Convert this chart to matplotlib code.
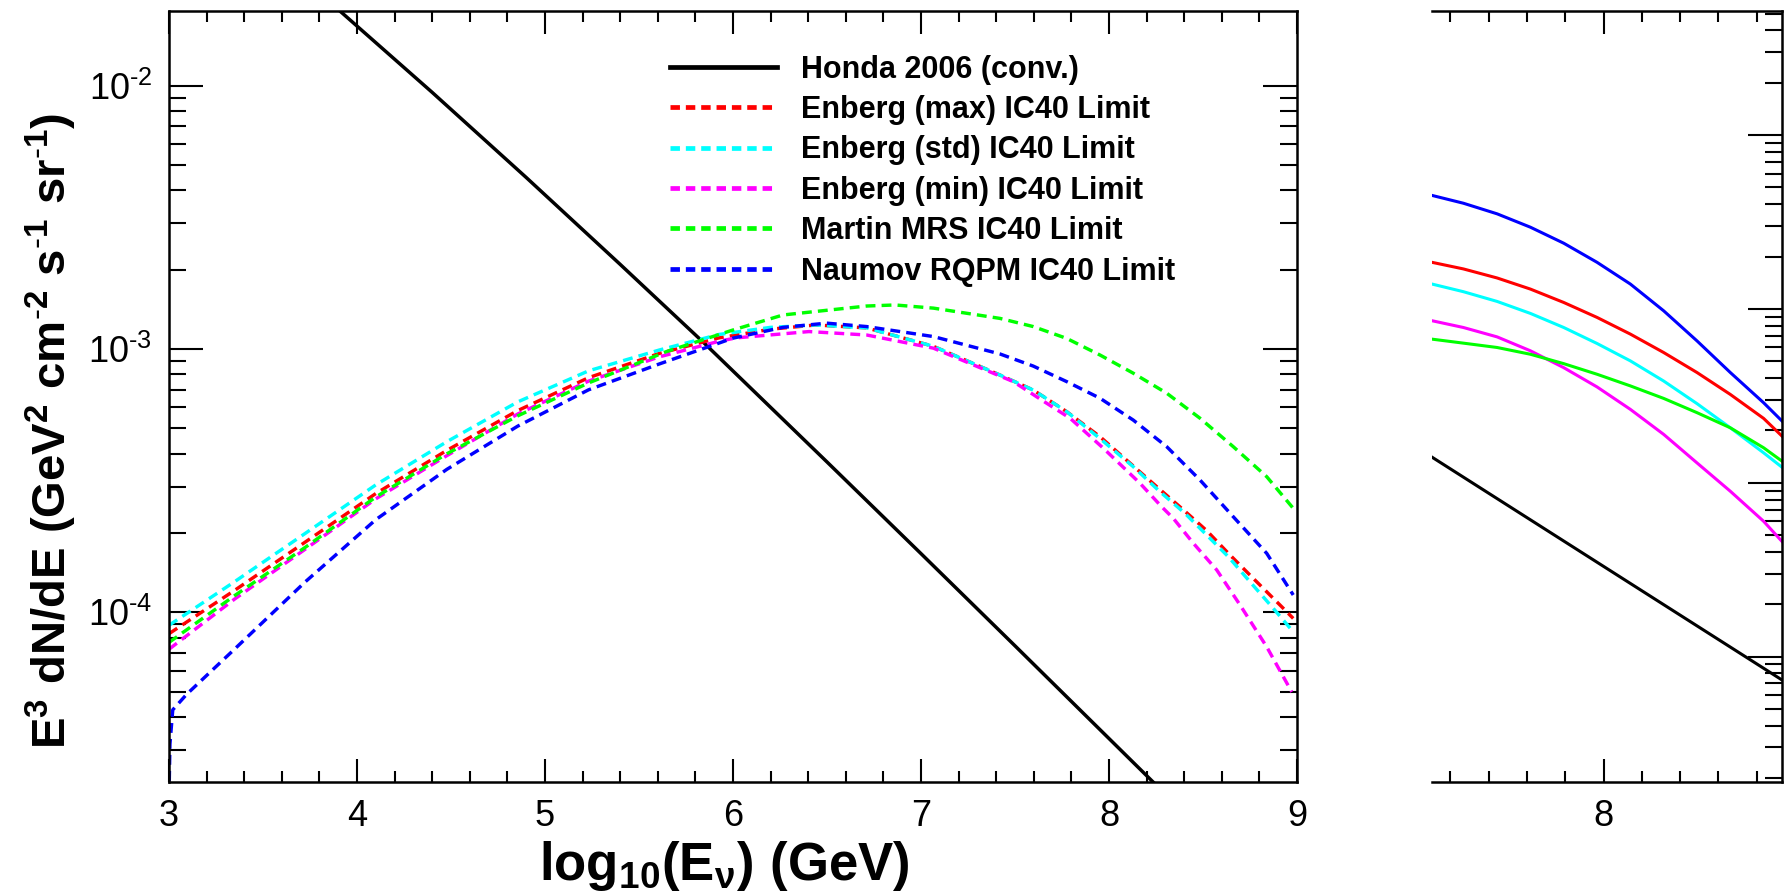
import matplotlib
matplotlib.use('Agg')
import matplotlib.pyplot as plt
import numpy as np
from matplotlib.ticker import MultipleLocator, LogLocator, NullFormatter, FuncFormatter

plt.rcParams['font.family'] = 'Liberation Sans'
plt.rcParams['mathtext.fontset'] = 'custom'
plt.rcParams['mathtext.rm'] = 'Liberation Sans'
plt.rcParams['mathtext.bf'] = 'Liberation Sans:bold'
plt.rcParams['mathtext.it'] = 'Liberation Sans:bold'

# ---- main panel: log10(E) vs log10(E^3 dN/dE) ----
honda_x = [3.89, 4.40, 4.90, 5.40, 5.85, 6.50, 7.00, 7.50, 8.25]
honda_logy = [-1.705, -2.026, -2.349, -2.679, -2.98, -3.429, -3.777, -4.127, -4.655]

emax_x = [3.0, 3.348, 3.725, 4.10, 4.478, 4.855, 5.232, 5.608, 5.925, 6.2, 6.44, 6.711, 7.066,
          7.42, 7.597, 7.775, 7.952, 8.254, 8.396, 8.52, 8.635, 8.759, 8.936, 8.98]
emax_logy = [-4.081, -3.917, -3.733, -3.549, -3.385, -3.234, -3.109, -3.017, -2.958, -2.925, -2.909, -2.92, -2.99,
             -3.099, -3.156, -3.238, -3.333, -3.523, -3.611, -3.69, -3.776, -3.865, -3.991, -4.023]

estd_x = [3.0, 3.348, 3.725, 4.10, 4.478, 4.855, 5.232, 5.608, 5.925, 6.2, 6.44, 6.711, 7.066,
          7.42, 7.597, 7.775, 7.952, 8.129, 8.271, 8.404, 8.519, 8.635, 8.75, 8.874, 8.972]
estd_logy = [-4.049, -3.884, -3.70, -3.516, -3.352, -3.201, -3.083, -3.004, -2.945, -2.918, -2.909, -2.92, -2.99,
             -3.099, -3.156, -3.238, -3.34, -3.447, -3.542, -3.624, -3.706, -3.789, -3.884, -3.985, -4.067]

emin_x = [3.0, 3.348, 3.725, 4.10, 4.478, 4.855, 5.232, 5.608, 5.925, 6.016, 6.404, 6.711, 7.066,
          7.491, 7.642, 7.793, 7.97, 8.165, 8.28, 8.342, 8.449, 8.573, 8.697, 8.839, 8.972]
emin_logy = [-4.14, -3.95, -3.76, -3.569, -3.405, -3.247, -3.122, -3.03, -2.971, -2.958, -2.934, -2.947, -2.997,
             -3.124, -3.194, -3.263, -3.377, -3.51, -3.599, -3.643, -3.738, -3.839, -3.972, -4.131, -4.302]

mrs_x = [3.0, 3.348, 3.725, 4.10, 4.478, 4.855, 5.232, 5.646, 6.0, 6.266, 6.711, 6.862, 7.066,
         7.42, 7.597, 7.775, 7.952, 8.129, 8.307, 8.484, 8.661, 8.839, 8.98]
mrs_logy = [-4.114, -3.937, -3.753, -3.562, -3.398, -3.254, -3.129, -3.01, -2.928, -2.871, -2.837, -2.833, -2.845,
            -2.884, -2.915, -2.96, -3.023, -3.092, -3.168, -3.263, -3.371, -3.485, -3.605]

rqpm_x = [3.0, 3.005, 3.02, 3.094, 3.348, 3.725, 4.10, 4.478, 4.855, 5.232, 5.608, 6.0, 6.266, 6.498, 6.711,
          7.066, 7.42, 7.597, 7.775, 7.952, 8.129, 8.307, 8.484, 8.661, 8.839, 8.98]
rqpm_logy = [-4.70, -4.50, -4.37, -4.311, -4.14, -3.884, -3.648, -3.457, -3.293, -3.155, -3.057, -2.959, -2.918, -2.902, -2.915,
             -2.953, -3.019, -3.065, -3.124, -3.187, -3.27, -3.371, -3.4975, -3.637, -3.776, -3.934]

labels = ['Honda 2006 (conv.)', 'Enberg (max) IC40 Limit', 'Enberg (std) IC40 Limit',
          'Enberg (min) IC40 Limit', 'Martin MRS IC40 Limit', 'Naumov RQPM IC40 Limit']

# ---- side panel (solid curves) ----
side_x = [7.552, 7.634, 7.722, 7.809, 7.896, 7.983, 8.070, 8.157, 8.244, 8.331, 8.418, 8.466]
side_blue = [-2.347, -2.392, -2.453, -2.530, -2.622, -2.732, -2.857, -3.011, -3.184, -3.366, -3.540, -3.645]
side_red = [-2.732, -2.770, -2.822, -2.886, -2.963, -3.049, -3.145, -3.251, -3.366, -3.492, -3.630, -3.732]
side_cyan = [-2.857, -2.901, -2.957, -3.026, -3.107, -3.199, -3.299, -3.415, -3.545, -3.684, -3.828, -3.911]
side_magenta = [-3.068, -3.107, -3.161, -3.241, -3.338, -3.449, -3.578, -3.722, -3.886, -4.049, -4.222, -4.338]
side_green = [-3.174, -3.197, -3.222, -3.261, -3.315, -3.376, -3.443, -3.515, -3.597, -3.684, -3.799, -3.876]
side_black_x = [7.552, 8.466]
side_black = [-3.853, -5.135]
side_xticks = [8]
side_xticklabels = ['8']

W, H = 1788, 893
fig = plt.figure(figsize=(W / 100, H / 100), dpi=100)


def px_axes(x0, y0, x1, y1):
    return fig.add_axes([x0 / W, 1 - y1 / H, (x1 - x0) / W, (y1 - y0) / H])


def pow10_label(v, pos):
    e = int(round(np.log10(v)))
    if e < 0:
        return r'$10^{\text{-}%d}$' % (-e)
    return r'$10^{%d}$' % e


ax = px_axes(169, 11, 1297, 782)
ax2 = px_axes(1432, 11, 1782, 782)

dash = (0, (2.9, 1.8))
lw = 2.45
colors = ['black', '#ff0000', '#00ffff', '#ff00ff', '#00ff00', '#0000ff']
ax.plot(honda_x, 10 ** np.array(honda_logy), color=colors[0], lw=2.5, label=labels[0])
ax.plot(emax_x, 10 ** np.array(emax_logy), color=colors[1], lw=lw, ls=dash, label=labels[1])
ax.plot(estd_x, 10 ** np.array(estd_logy), color=colors[2], lw=lw, ls=dash, label=labels[2])
ax.plot(emin_x, 10 ** np.array(emin_logy), color=colors[3], lw=lw, ls=dash, label=labels[3])
ax.plot(mrs_x, 10 ** np.array(mrs_logy), color=colors[4], lw=lw, ls=dash, label=labels[4])
ax.plot(rqpm_x, 10 ** np.array(rqpm_logy), color=colors[5], lw=lw, ls=dash, label=labels[5])

ax.set_yscale('log')
ax.set_xlim(3, 9)
ax.set_ylim(10 ** -4.644, 10 ** -1.717)
ax.xaxis.set_major_locator(MultipleLocator(1))
ax.xaxis.set_minor_locator(MultipleLocator(0.2))
ax.yaxis.set_major_locator(LogLocator(base=10))
ax.yaxis.set_major_formatter(FuncFormatter(pow10_label))
ax.yaxis.set_minor_locator(LogLocator(base=10, subs=np.arange(2, 10)))
ax.yaxis.set_minor_formatter(NullFormatter())

for a in (ax, ax2):
    for s in a.spines.values():
        s.set_linewidth(1.8)
    a.tick_params(which='both', direction='in', top=True, right=True, width=1.5, labelsize=26)
    a.tick_params(axis='x', which='major', length=16.5, pad=12)
    a.tick_params(axis='x', which='minor', length=8)
    a.tick_params(axis='y', which='major', length=24.5, pad=12)
    a.tick_params(axis='y', which='minor', length=12)

leg = ax.legend(loc='upper left', bbox_to_anchor=(0.4441, 0.9434), frameon=False,
                borderaxespad=0, borderpad=0, handlelength=3.5, handletextpad=0.78,
                labelspacing=0.34, prop={'family': 'Liberation Sans', 'weight': 'bold', 'size': 22})
for i, h in enumerate(leg.get_lines()):
    h.set_linewidth(3.4)
    if i > 0:
        h.set_linestyle((0, (2.0, 1.25)))

fig.text(51 / W, 1 - 431 / H,
         r'$\mathbf{E^{3}\ dN/dE\ (GeV^{2}\ cm^{\text{-}2}\ s^{\text{-}1}\ sr^{\text{-}1})}$',
         rotation=90, ha='center', va='center', fontsize=34)
fig.text(724 / W, 1 - 866 / H, r'$\mathbf{log_{10}(E_{\nu})\ (GeV)}$',
         ha='center', va='center', fontsize=38)

# side panel
slw = 2.2
ax2.plot(side_x, 10 ** np.array(side_blue), color='#0000ff', lw=slw)
ax2.plot(side_x, 10 ** np.array(side_red), color='#ff0000', lw=slw)
ax2.plot(side_x, 10 ** np.array(side_cyan), color='#00ffff', lw=slw)
ax2.plot(side_x, 10 ** np.array(side_magenta), color='#ff00ff', lw=slw)
ax2.plot(side_x, 10 ** np.array(side_green), color='#00ff00', lw=slw)
ax2.plot(side_black_x, 10 ** np.array(side_black), color='black', lw=slw)
ax2.set_yscale('log')
ax2.set_xlim(7.552, 8.466)
ax2.set_ylim(10 ** -5.722, 10 ** -1.286)
ax2.set_xticks(side_xticks)
ax2.set_xticklabels(side_xticklabels)
ax2.xaxis.set_minor_locator(MultipleLocator(0.1))
ax2.yaxis.set_minor_locator(LogLocator(base=10, subs=np.arange(2, 10)))
ax2.yaxis.set_major_locator(LogLocator(base=10))
ax2.yaxis.set_minor_formatter(NullFormatter())
ax2.tick_params(axis='y', which='both', left=False, labelleft=False)
ax2.spines['left'].set_visible(False)

fig.savefig('out.png', dpi=100)
